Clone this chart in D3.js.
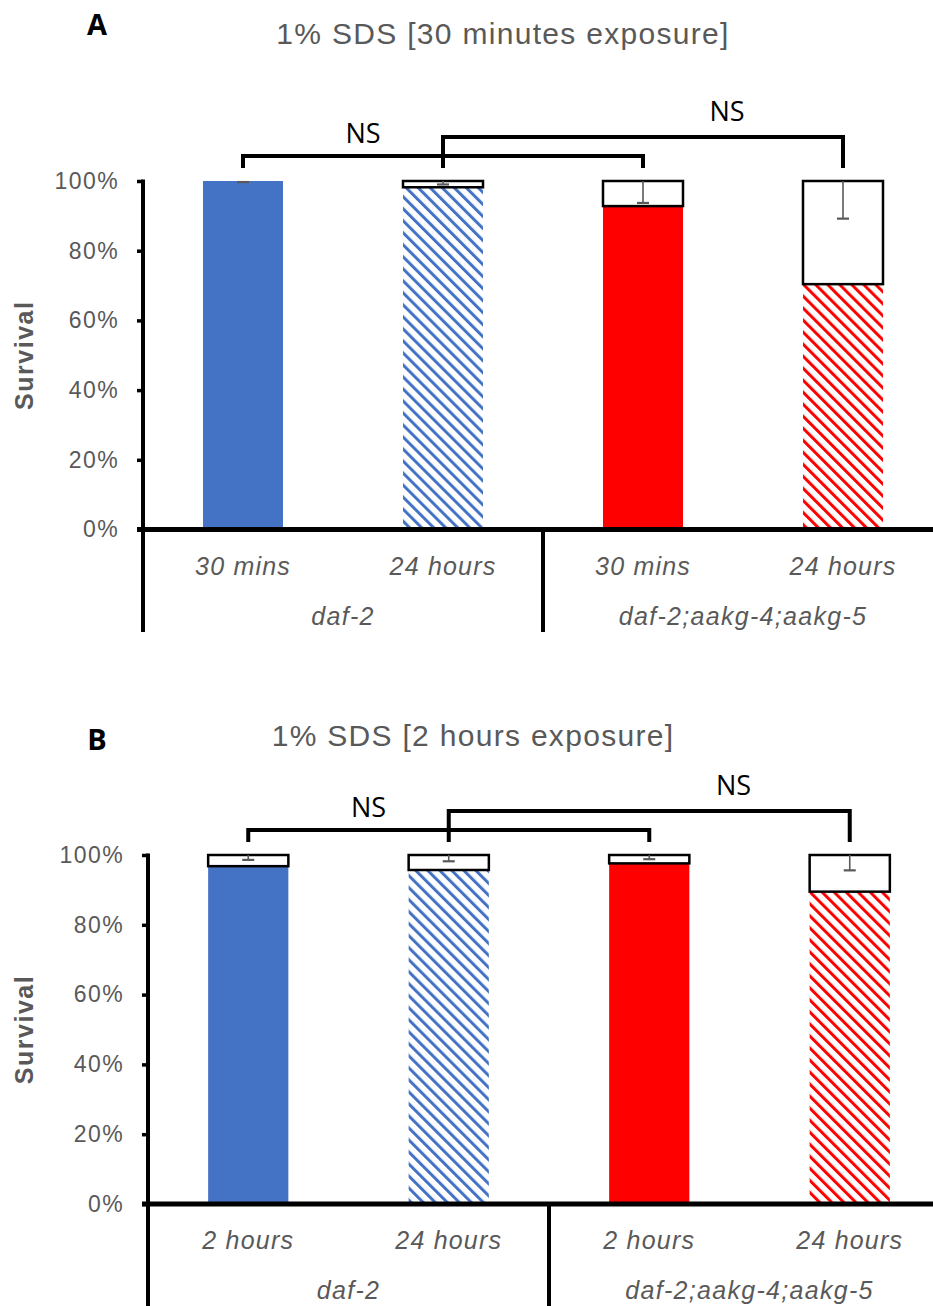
<!DOCTYPE html>
<html>
<head>
<meta charset="utf-8">
<script src="https://cdn.jsdelivr.net/npm/d3@7"></script>
<style>
  html, body { margin: 0; padding: 0; background: #fff; }
  svg { display: block; }
</style>
</head>
<body>
<svg id="chart" width="933" height="1306"></svg>
<script>
// ---------------- DATA ----------------
const panelLetters = ["A", "B"];
const panelTitles = ["1% SDS [30 minutes exposure]", "1% SDS [2 hours exposure]"];
const categoriesA = ["30 mins", "24 hours", "30 mins", "24 hours"];
const categoriesB = ["2 hours", "24 hours", "2 hours", "24 hours"];
const groupLabels = ["daf-2", "daf-2;aakg-4;aakg-5"];
const survivalA = [100, 98.2, 92.8, 70.4];
const errorA = [0.3, 1.0, 6.3, 10.8];
const survivalB = [96.8, 95.7, 97.6, 89.5];
const errorB = [1.4, 1.8, 1.2, 4.4];
const yTicks = [0, 20, 40, 60, 80, 100];
const comparisons = [[0, 2], [1, 3]];
const comparisonLabels = ["NS", "NS"];
const yAxisLabel = "Survival";

// ---------------- STYLE / LAYOUT ----------------
const BLUE = "#4472C4", RED = "#FF0000", GRAY = "#595959";
const barColors = [BLUE, BLUE, RED, RED];
const barHatched = [false, true, false, true];

const layouts = [
  { left: 143, right: 943, y0: 529.5, y100: 181, bottom: 632, titleX: 503, titleY: 33, letterX: 97, letterY: 23 },
  { left: 148, right: 950, y0: 1204, y100: 855, bottom: 1306, titleX: 473, titleY: 735, letterX: 97, letterY: 738 }
];
const panels = [
  { cats: categoriesA, vals: survivalA, errs: errorA },
  { cats: categoriesB, vals: survivalB, errs: errorB }
];

const svg = d3.select("#chart");
const defs = svg.append("defs");

function makeHatch(id, color) {
  const p = defs.append("pattern")
    .attr("id", id)
    .attr("patternUnits", "userSpaceOnUse")
    .attr("width", 8.5).attr("height", 8.5)
    .attr("patternTransform", "rotate(-45)");
  p.append("rect").attr("width", 8.5).attr("height", 8.5).attr("fill", "#fff");
  p.append("rect").attr("x", 0).attr("y", 0).attr("width", 3).attr("height", 8.5).attr("fill", color);
}
makeHatch("hatch-blue", BLUE);
makeHatch("hatch-red", RED);

function drawPanel(pi) {
  const L = layouts[pi];
  const P = panels[pi];
  const g = svg.append("g");
  const idx = d3.range(P.cats.length);

  const x = d3.scaleBand().domain(idx).range([L.left, L.right]).paddingInner(0.6).paddingOuter(0.3);
  const y = d3.scaleLinear().domain([0, 100]).range([L.y0, L.y100]);
  const step = x.step();
  const cx = i => x(i) + x.bandwidth() / 2;

  // Panel letter
  g.append("text").attr("x", L.letterX).attr("y", L.letterY)
    .attr("text-anchor", "middle").attr("dominant-baseline", "central")
    .attr("font-family", "Open Sans, sans-serif").attr("font-weight", "bold")
    .attr("font-size", 29).attr("fill", "#000").text(panelLetters[pi]);

  // Title
  g.append("text").attr("x", L.titleX).attr("y", L.titleY)
    .attr("text-anchor", "middle").attr("dominant-baseline", "central")
    .attr("font-family", "'Liberation Sans', Arial, sans-serif")
    .attr("font-size", 30).attr("letter-spacing", 1.3).attr("fill", GRAY)
    .text(panelTitles[pi]);

  // Bars
  g.selectAll("rect.bar").data(idx).join("rect")
    .attr("class", "bar")
    .attr("x", i => x(i)).attr("width", x.bandwidth())
    .attr("y", i => y(P.vals[i])).attr("height", i => y(0) - y(P.vals[i]))
    .attr("fill", i => barHatched[i] ? (barColors[i] === BLUE ? "url(#hatch-blue)" : "url(#hatch-red)") : barColors[i]);

  // Remaining (white) boxes
  g.selectAll("rect.rem").data(idx.filter(i => 100 - P.vals[i] > 0.2)).join("rect")
    .attr("class", "rem")
    .attr("x", i => x(i)).attr("width", x.bandwidth())
    .attr("y", y(100)).attr("height", i => y(P.vals[i]) - y(100))
    .attr("fill", "#fff").attr("stroke", "#000").attr("stroke-width", 2.5);

  // Error bars (downward from 100%)
  const eb = g.selectAll("g.err").data(idx).join("g").attr("class", "err");
  eb.append("line")
    .attr("x1", cx).attr("x2", cx)
    .attr("y1", y(100)).attr("y2", i => y(100 - P.errs[i]))
    .attr("stroke", GRAY).attr("stroke-width", 1.6);
  eb.append("line")
    .attr("x1", i => cx(i) - 6).attr("x2", i => cx(i) + 6)
    .attr("y1", i => y(100 - P.errs[i])).attr("y2", i => y(100 - P.errs[i]))
    .attr("stroke", GRAY).attr("stroke-width", 2.2);

  // Y axis
  const yAxis = d3.axisLeft(y).tickValues(yTicks).tickFormat(d => d + "%").tickSize(6).tickPadding(18);
  const ya = g.append("g").attr("transform", `translate(${L.left},0)`).call(yAxis);
  ya.select(".domain").remove();
  ya.selectAll(".tick line").attr("stroke", "#000").attr("stroke-width", 3.5);
  ya.selectAll(".tick text")
    .attr("font-family", "'Liberation Sans', Arial, sans-serif")
    .attr("font-size", 23).attr("letter-spacing", 1.4).attr("fill", GRAY);

  // Axis lines
  g.append("line").attr("x1", L.left).attr("x2", L.left)
    .attr("y1", y(100) - 1.5).attr("y2", L.bottom)
    .attr("stroke", "#000").attr("stroke-width", 4);
  g.append("line").attr("x1", L.left - 6).attr("x2", 933)
    .attr("y1", y(0)).attr("y2", y(0))
    .attr("stroke", "#000").attr("stroke-width", 5);
  // Group separator (between group 1 and 2)
  const sepX = L.left + 2 * step;
  g.append("line").attr("x1", sepX).attr("x2", sepX)
    .attr("y1", y(0)).attr("y2", L.bottom)
    .attr("stroke", "#000").attr("stroke-width", 4);

  // Y label
  g.append("text")
    .attr("transform", `translate(24,${(y(0) + y(100)) / 2}) rotate(-90)`)
    .attr("text-anchor", "middle").attr("dominant-baseline", "central")
    .attr("font-family", "'Liberation Sans', Arial, sans-serif").attr("font-weight", "bold")
    .attr("font-size", 25).attr("letter-spacing", 1.5).attr("fill", GRAY)
    .text(yAxisLabel);

  // Category labels
  g.selectAll("text.cat").data(idx).join("text")
    .attr("class", "cat")
    .attr("x", cx).attr("y", y(0) + 36)
    .attr("text-anchor", "middle").attr("dominant-baseline", "central")
    .attr("font-family", "'Liberation Sans', Arial, sans-serif").attr("font-style", "italic")
    .attr("font-size", 25).attr("letter-spacing", 1.2).attr("fill", GRAY)
    .text(i => P.cats[i]);

  // Group labels
  g.selectAll("text.grp").data(groupLabels).join("text")
    .attr("class", "grp")
    .attr("x", (d, k) => L.left + (2 * k + 1) * step)
    .attr("y", y(0) + 86)
    .attr("text-anchor", "middle").attr("dominant-baseline", "central")
    .attr("font-family", "'Liberation Sans', Arial, sans-serif").attr("font-style", "italic")
    .attr("font-size", 25).attr("letter-spacing", 1.3).attr("fill", GRAY)
    .text(d => d);

  // Significance brackets
  const levels = [y(100) - 25, y(100) - 44];
  const labelFrac = [0.3, 0.71];
  const labelOffset = [-24, -27];
  comparisons.forEach(([a, b], k) => {
    const top = levels[k], drop = y(100) - 13;
    g.append("path")
      .attr("d", `M${cx(a)},${drop}V${top}H${cx(b)}V${drop}`)
      .attr("fill", "none").attr("stroke", "#000").attr("stroke-width", 4);
    g.append("text")
      .attr("x", cx(a) + labelFrac[k] * (cx(b) - cx(a)))
      .attr("y", top + labelOffset[k])
      .attr("text-anchor", "middle").attr("dominant-baseline", "central")
      .attr("font-family", "Open Sans, sans-serif")
      .attr("font-size", 27).attr("fill", "#000")
      .text(comparisonLabels[k]);
  });
}

drawPanel(0);
drawPanel(1);
</script>
</body>
</html>
